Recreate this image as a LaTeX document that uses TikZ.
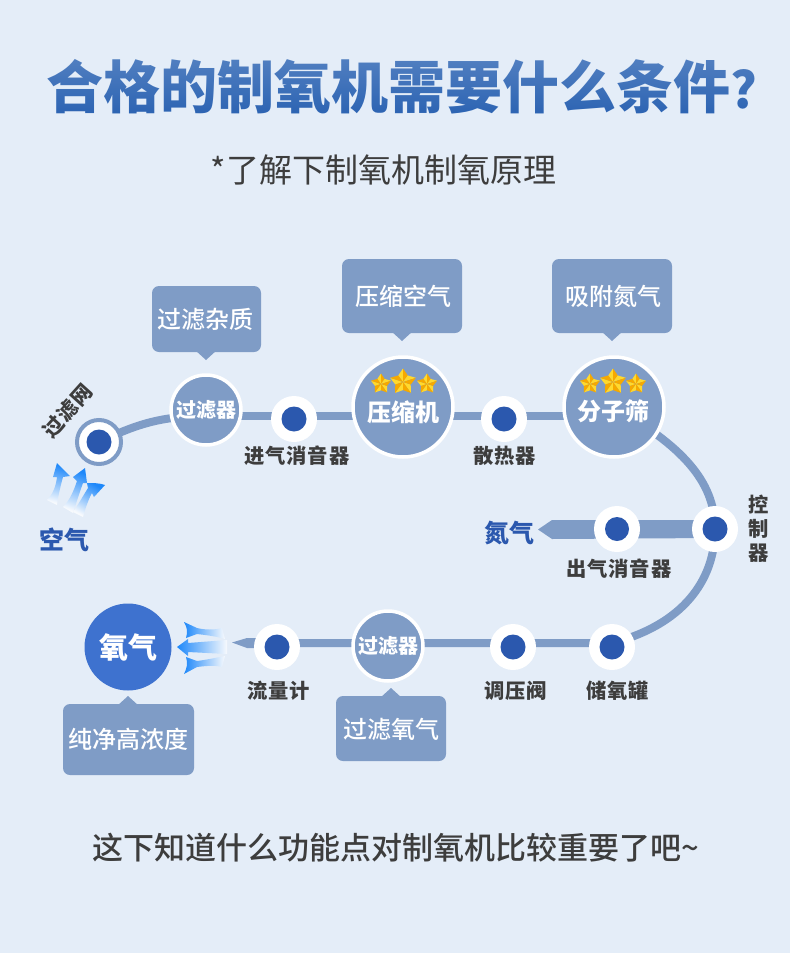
\documentclass[tikz,border=0pt]{standalone}
\usepackage{fontspec}
\usetikzlibrary{shapes.geometric,fadings,calc}
\newfontfamily\cjk{Noto Sans CJK SC}
\newfontfamily\cjkm{Noto Sans CJK SC Medium}
\newfontfamily\cjkk{Noto Sans CJK SC Black}
\newcommand{\fsz}[1]{\fontsize{#1}{#1}\selectfont}
\definecolor{bgc}{HTML}{E4EDF8}
\definecolor{pipec}{HTML}{7F9CC6}
\definecolor{dotc}{HTML}{2B58AE}
\definecolor{labc}{HTML}{3D3D3D}
\definecolor{o2c}{HTML}{3E72CF}
\definecolor{titlec}{HTML}{2A62B2}
\definecolor{flowc}{HTML}{1E88FA}
\definecolor{starl}{HTML}{FFD92E}
\definecolor{stard}{HTML}{F6A900}
\pgfdeclarelayer{bg}
\pgfsetlayers{bg,main}
\tikzfading[name=titlefade, top color=transparent!78, bottom color=transparent!100]
\newcommand{\fstar}[3]{%
  \begin{scope}[shift={(#1,#2)}]
    \pgfmathsetmacro\rr{0.6*#3}
    \foreach \k in {0,72,144,216,288}{
      \fill[starl] (0,0) -- ({90+\k}:#3pt) -- ({126+\k}:\rr pt) -- cycle;
      \fill[stard] (0,0) -- ({90+\k}:#3pt) -- ({54+\k}:\rr pt) -- cycle;
    }
  \end{scope}}
\tikzset{
  x=1pt,y=-1pt,
  every node/.style={inner sep=0pt,outer sep=0pt,font=\cjk},
  pipe/.style={line width=8pt,draw=pipec},
  whitedot/.style={circle,fill=white,minimum size=46pt},
  bluedot/.style={circle,fill=dotc,minimum size=25pt},
  station/.style={circle,fill=pipec,draw=white,line width=3.5pt,text=white},
  bubble/.style={fill=pipec,rounded corners=7pt},
  bubtext/.style={text=white,font=\cjkm\fsz{24}},
  lab/.style={text=labc,font=\cjk\bfseries\addfontfeature{LetterSpace=4}\fsz{20.3}},
  gas/.style={text=dotc,font=\cjkk\fsz{25}},
  flowup/.style={top color=flowc,middle color=flowc!40!white,bottom color=bgc!30!white,shading angle=#1},
  flowleft/.style={left color=flowc,middle color=flowc!30!white,right color=bgc!30!white},
}
\begin{document}
\begin{tikzpicture}
\useasboundingbox (0,0) rectangle (790,953);
\begin{pgfonlayer}{bg}
\fill[bgc] (0,0) rectangle (790,953);
\end{pgfonlayer}

% title and text
\node[text=titlec,font=\cjk\bfseries\fsz{57},anchor=west] (title) at (46,87) {合格的制氧机需要什么条件{\fsz{50}?}};
\fill[bgc,path fading=titlefade] (30,56) rectangle (775,118);
\node[text=labc,font=\cjk\fsz{33},anchor=center] (sub) at (383.5,170) {*了解下制氧机制氧原理};
\node[text=labc,font=\cjkm\fsz{31},anchor=center] (foot) at (396,848) {这下知道什么功能点对制氧机比较重要了吧\textasciitilde};

% stations
\node[circle,fill=white,draw=pipec,line width=4pt,minimum size=44pt] (net) at (99,442) {};
\node[bluedot] (netd) at (99,442) {};
\node[station,minimum size=70pt,font=\cjkk\fsz{20}] (f1) at (206,410) {过滤器};
\node[whitedot] (p1) at (294,419) {}; \node[bluedot] (p1d) at (294,419) {};
\node[station,minimum size=100pt] (comp) at (403,407) {};
\node[whitedot] (p2) at (504,419) {}; \node[bluedot] (p2d) at (504,419) {};
\node[station,minimum size=100pt] (sieve) at (614,407) {};
\node[whitedot] (ctl) at (715,529) {}; \node[bluedot] (ctld) at (715,529) {};
\node[whitedot] (p3) at (617,529) {}; \node[bluedot,minimum size=24pt] (p3d) at (617,529) {};
\node[whitedot] (tank) at (612,647) {}; \node[bluedot] (tankd) at (612,647) {};
\node[whitedot] (valve) at (513,647) {}; \node[bluedot] (valved) at (513,647) {};
\node[station,minimum size=70pt,font=\cjkk\fsz{20}] (f2) at (388,646) {过滤器};
\node[whitedot] (flow) at (277,647) {}; \node[bluedot] (flowd) at (277,647) {};
\node[circle,fill=o2c,minimum size=87pt,text=white,font=\cjkk\fsz{29}] (o2) at (128,647) {氧气};

\node[text=white,font=\cjkk\fsz{24}] (compt) at (403,412) {压缩机};
\node[text=white,font=\cjkk\fsz{24}] (sievet) at (613,411) {分子筛};

% stars
\fstar{381}{384}{10.5}
\fstar{403}{382}{13.5}
\fstar{427}{384}{10.5}
\fstar{590}{384}{10.5}
\fstar{613}{382}{13.5}
\fstar{636}{384}{10.5}

% connectors
\begin{pgfonlayer}{bg}
\draw[pipe] (net.center) .. controls (135,425) and (160,416) .. ([yshift=-6pt]f1.center);
\draw[pipe] ([yshift=-6pt]f1.center) -- ([yshift=3pt]p1.center) -- ([yshift=3pt]p2.center) -- ([yshift=-9pt]sieve.center);
\draw[pipe] (sieve.center) .. controls (680,445) and (715,480) .. (ctl.center)
            .. controls (715,581) and (682,625) .. ([yshift=4pt]tank.center)
            -- ([yshift=4pt]valve.center) -- ([yshift=4pt]flow.center);
\fill[pipec] (715,520) -- (552,520) -- (538,529.5) -- (552,539) -- (715,538) -- cycle;
\coordinate (ltip) at (232,642.5);
\fill[pipec] ([yshift=9pt]flow.center) -- (247,638) -- (ltip) -- (247,648) -- ([yshift=-1pt]flow.center) -- cycle;
\end{pgfonlayer}

% bubbles
\fill[pipec] (195,350) -- (206,360) -- (217,350) -- cycle;
\fill[bubble] (152,286) rectangle (261,352);
\node[bubtext] (b1) at (205,319) {过滤杂质};
\fill[pipec] (391,331) -- (402,341) -- (413,331) -- cycle;
\fill[bubble] (342,259) rectangle (462,333);
\node[bubtext] (b2) at (403,296) {压缩空气};
\fill[pipec] (601,331) -- (612,341) -- (623,331) -- cycle;
\fill[bubble] (552,259) rectangle (672,333);
\node[bubtext] (b3) at (613,296) {吸附氮气};
\fill[pipec] (117,706) -- (128,696) -- (139,706) -- cycle;
\fill[bubble] (63,704) rectangle (194,775);
\node[bubtext] (b4) at (128,739) {纯净高浓度};
\fill[pipec] (380,698) -- (391,688) -- (402,698) -- cycle;
\fill[bubble] (336,696) rectangle (446,761);
\node[bubtext] (b5) at (391,729) {过滤氧气};

% labels
\node[lab] (l1) at (297,456) {进气消音器};
\node[lab] (l2) at (505,456) {散热器};
\node[lab] (l3) at (619,569) {出气消音器};
\node[lab] (l4) at (618,691) {储氧罐};
\node[lab] (l5) at (516,691) {调压阀};
\node[lab] (l6) at (279,691) {流量计};
\node[text=labc,align=center,font=\cjk\bfseries\fontsize{20.3}{24}\selectfont] (l7) at (759,529) {控\\制\\器};
\node[lab,rotate=48] (l8) at (68,411) {过滤网};
\node[gas] (air) at (64,540) {空气};
\node[gas] (n2) at (509,533) {氮气};

% air arrows
\shade[flowup=-15]
  (57,463) -- (70,476) -- (63,477) .. controls (60,488) and (58,497) .. (57,505) -- (47,500) .. controls (53,494) and (56,486) .. (57,477) -- (53,477) -- cycle;
\shade[flowup=-20]
  (85,468) -- (87,483) -- (83,483) .. controls (79,494) and (76,504) .. (73,513) -- (63,507) .. controls (70,500) and (74,490) .. (77,481) -- (73,477) -- cycle;
\shade[flowup=-30]
  (105,485) -- (94,497) -- (92,493) .. controls (88,500) and (85,510) .. (83,517) -- (73,512) .. controls (78,505) and (83,496) .. (88,488) -- (87,483) .. controls (93,483) and (100,483) .. cycle;

% oxygen arrows
\shade[flowleft] (184,622) -- (197,628) .. controls (205,630) and (215,630) .. (222,628) -- (225,639) .. controls (215,636) and (205,635) .. (197,634) -- (186,638) .. controls (188,632) and (187,627) .. cycle;
\shade[flowleft] (177,647) -- (188,639) -- (188,643) -- (227,640) -- (227,654) -- (188,652) -- (188,656) -- cycle;
\shade[flowleft] (184,674) .. controls (187,668) and (188,663) .. (186,657) -- (197,661) .. controls (205,660) and (215,658) .. (225,656) -- (222,667) .. controls (215,665) and (205,666) .. (197,667) -- cycle;
\end{tikzpicture}
\end{document}
